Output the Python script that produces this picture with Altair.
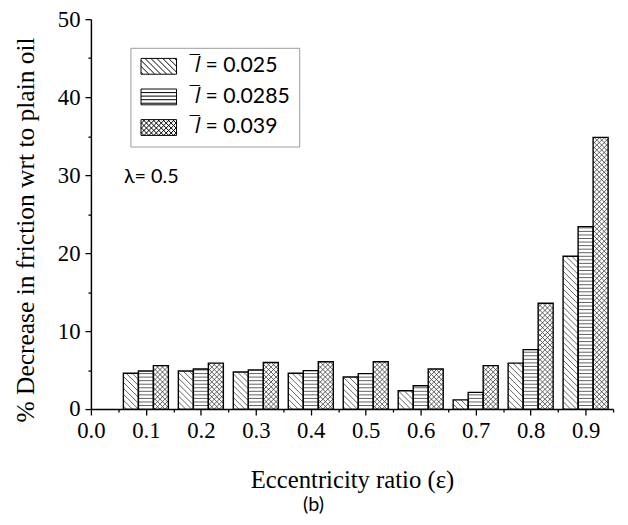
import altair as alt
import pandas as pd
import numpy as np

# ---- data ----
eps = [0.1, 0.2, 0.3, 0.4, 0.5, 0.6, 0.7, 0.8, 0.9]
series_labels = ["\U0001D459\u0305 = 0.025", "\U0001D459\u0305 = 0.0285", "\U0001D459\u0305 = 0.039"]
v_0025 = [4.59, 4.88, 4.76, 4.59, 4.12, 2.35, 1.18, 5.89, 19.6]
v_00285 = [4.88, 5.14, 5.01, 4.93, 4.55, 2.99, 2.15, 7.63, 23.4]
v_0039 = [5.57, 5.89, 5.98, 6.07, 6.07, 5.14, 5.57, 13.57, 34.85]
series_values = [v_0025, v_00285, v_0039]
hatch_kinds = ["diag", "horiz", "cross"]

x_major = [0.0, 0.1, 0.2, 0.3, 0.4, 0.5, 0.6, 0.7, 0.8, 0.9]
x_minor = [0.05, 0.15, 0.25, 0.35, 0.45, 0.55, 0.65, 0.75, 0.85, 0.95]
y_major = [0, 10, 20, 30, 40, 50]
y_minor = [5, 15, 25, 35, 45]

# ---- layout constants ----
W, H = 529, 395
XMAX, YMAX = 0.95, 50
BW = 0.0273            # bar width in data units
PX_X = W / XMAX
PX_Y = H / YMAX
D_DIAG, D_HOR, D_CROSS = 6.0, 3.6, 5.0

bar_rows = []
for si, (lab, vals) in enumerate(zip(series_labels, series_values)):
    for e, v in zip(eps, vals):
        c = e + (si - 1) * BW
        bar_rows.append(dict(series=lab, kind=hatch_kinds[si], eps=e, value=v,
                             x0=c - BW / 2, x1=c + BW / 2, y0=0.0))
bars = pd.DataFrame(bar_rows)


def diag_segments(x0, x1, y1, d, slope):
    """lines clipped to rect [x0,x1]x[0,y1] in pixel units (y up)."""
    segs = []
    if slope < 0:  # y = -x + c
        cmin, cmax = x0, x1 + y1
        k = np.ceil(cmin / d)
        while k * d < cmax:
            c = k * d
            xa, xb = max(x0, c - y1), min(x1, c)
            if xb - xa > 0.3:
                segs.append((xa, c - xa, xb, c - xb))
            k += 1
    else:  # y = x + c
        cmin, cmax = -x1, y1 - x0
        k = np.ceil(cmin / d)
        while k * d < cmax:
            c = k * d
            xa, xb = max(x0, -c), min(x1, y1 - c)
            if xb - xa > 0.3:
                segs.append((xa, xa + c, xb, xb + c))
            k += 1
    return segs


hatch_rows = []
for r in bar_rows:
    px0, px1, py1 = r["x0"] * PX_X, r["x1"] * PX_X, r["value"] * PX_Y
    segs = []
    if r["kind"] == "diag":
        segs = diag_segments(px0, px1, py1, D_DIAG, -1)
    elif r["kind"] == "cross":
        segs = diag_segments(px0, px1, py1, D_CROSS, -1) + diag_segments(px0, px1, py1, D_CROSS, 1)
    else:
        k = 1
        while k * D_HOR < py1 - 0.8:
            segs.append((px0, k * D_HOR, px1, k * D_HOR))
            k += 1
    for (a, b, c, d) in segs:
        hatch_rows.append(dict(x=a / PX_X, y=b / PX_Y, x2=c / PX_X, y2=d / PX_Y))
hatch = pd.DataFrame(hatch_rows)


# ---- legend symbol paths (custom SVG paths, unit = sqrt(size)/2 px) ----
SYM_SIZE = 256
U = np.sqrt(SYM_SIZE) / 2
HW, HH = 18 / U, 8 / U


def sym_path(kind):
    p = [f"M{-HW:.3f},{-HH:.3f}L{HW:.3f},{-HH:.3f}L{HW:.3f},{HH:.3f}L{-HW:.3f},{HH:.3f}Z"]
    def diag(d, sgn):
        out = []
        cs = np.arange(-HW - HH - 2, HW + HH + 2, d)
        for c in cs:
            pts = []
            for xx in np.linspace(-HW, HW, 400):
                yy = sgn * xx + c
                if -HH <= yy <= HH:
                    pts.append((xx, yy))
            if len(pts) > 2:
                out.append(f"M{pts[0][0]:.3f},{pts[0][1]:.3f}L{pts[-1][0]:.3f},{pts[-1][1]:.3f}")
        return out
    if kind == "diag":
        p += diag(6 / U, 1)
    elif kind == "cross":
        p += diag(5 / U, 1) + diag(5 / U, -1)
    else:
        yy = -HH + 3.6 / U
        while yy < HH - 0.1:
            p.append(f"M{-HW:.3f},{yy:.3f}L{HW:.3f},{yy:.3f}")
            yy += 3.6 / U
    return "".join(p)


sym_paths = [sym_path(k) for k in hatch_kinds]

SERIF = "Liberation Serif"
SANS = "Lato"

xs = alt.Scale(domain=[0, XMAX], nice=False, zero=False)
ys = alt.Scale(domain=[0, YMAX], nice=False, zero=False)

ax_x_major = alt.Axis(values=x_major, format=".1f", tickSize=6, labelPadding=5, orient="bottom",
                      title="Eccentricity ratio (\u03b5)", titleX=W / 2, titleY=79,
                      titleBaseline="alphabetic", titleFont=SERIF, titleFontSize=25,
                      titleFontWeight="normal", labelFont=SERIF, labelFontSize=23,
                      labelFlush=False, grid=False)
ax_y_major = alt.Axis(values=y_major, tickSize=6, labelPadding=5, orient="left",
                      title="% Decrease in friction wrt to plain oil", titleX=-53, titleY=213,
                      titleBaseline="bottom", titleFont=SERIF, titleFontSize=25.8,
                      titleFontWeight="normal", labelFont=SERIF, labelFontSize=23, grid=False)
ax_x_minor = alt.Axis(values=x_minor, tickSize=3, labels=False, domain=False, title=None,
                      grid=False, orient="bottom")
ax_y_minor = alt.Axis(values=y_minor, tickSize=3, labels=False, domain=False, title=None,
                      grid=False, orient="left")

base_bars = alt.Chart(bars).mark_rect(fill="white").encode(
    x=alt.X("x0:Q", scale=xs, axis=ax_x_major), x2="x1:Q",
    y=alt.Y("y0:Q", scale=ys, axis=ax_y_major), y2="value:Q")

hatch_layer = alt.Chart(hatch).mark_rule(color="#3a3a3a", strokeWidth=0.8).encode(
    x=alt.X("x:Q", scale=xs, axis=None), x2="x2:Q",
    y=alt.Y("y:Q", scale=ys, axis=None), y2="y2:Q")

outline = alt.Chart(bars).mark_rect(fill="white", fillOpacity=0, stroke="black", strokeWidth=1.4).encode(
    x=alt.X("x0:Q", scale=xs, axis=ax_x_minor), x2="x1:Q",
    y=alt.Y("y0:Q", scale=ys, axis=ax_y_minor), y2="value:Q")

legend_pts = alt.Chart(bars).mark_point(opacity=0).encode(
    x=alt.X("eps:Q", scale=xs, axis=None),
    y=alt.Y("value:Q", scale=ys, axis=None),
    shape=alt.Shape("series:N", scale=alt.Scale(domain=series_labels, range=sym_paths),
                    legend=alt.Legend(title=None, orient="none", legendX=40, legendY=29,
                                      padding=8, strokeColor="#9a9a9a", fillColor="white",
                                      symbolSize=SYM_SIZE, symbolFillColor="white",
                                      symbolStrokeColor="black", symbolStrokeWidth=1,
                                      symbolOpacity=1, symbolOffset=10, labelOffset=26,
                                      labelFont=SANS, labelFontSize=21.5, labelColor="black",
                                      rowPadding=8, labelLimit=300)))

lam = pd.DataFrame({"x": [0.06], "y": [29.7], "t": ["\u03bb= 0.5"]})
lam_layer = alt.Chart(lam).mark_text(font=SANS, fontSize=20, align="left", baseline="middle",
                                     color="black").encode(
    x=alt.X("x:Q", scale=xs, axis=None), y=alt.Y("y:Q", scale=ys, axis=None), text="t:N")

chart = alt.layer(base_bars, hatch_layer, outline, legend_pts, lam_layer).resolve_axis(
    x="independent", y="independent"
).properties(
    width=W, height=H,
    autosize=alt.AutoSizeParams(type="none"),
    padding={"left": 84, "top": 8, "right": 7, "bottom": 106},
    title=alt.Title(text="(b)", orient="bottom", font=SANS, fontSize=20, fontWeight="normal",
                    color="black", dx=-39, offset=3),
).configure_view(strokeWidth=0).configure_axis(
    domainColor="black", domainWidth=1.5, tickColor="black", tickWidth=1.3,
    labelColor="black", titleColor="black"
)

chart.save("out.html", embed_options={"renderer": "svg", "actions": False})
